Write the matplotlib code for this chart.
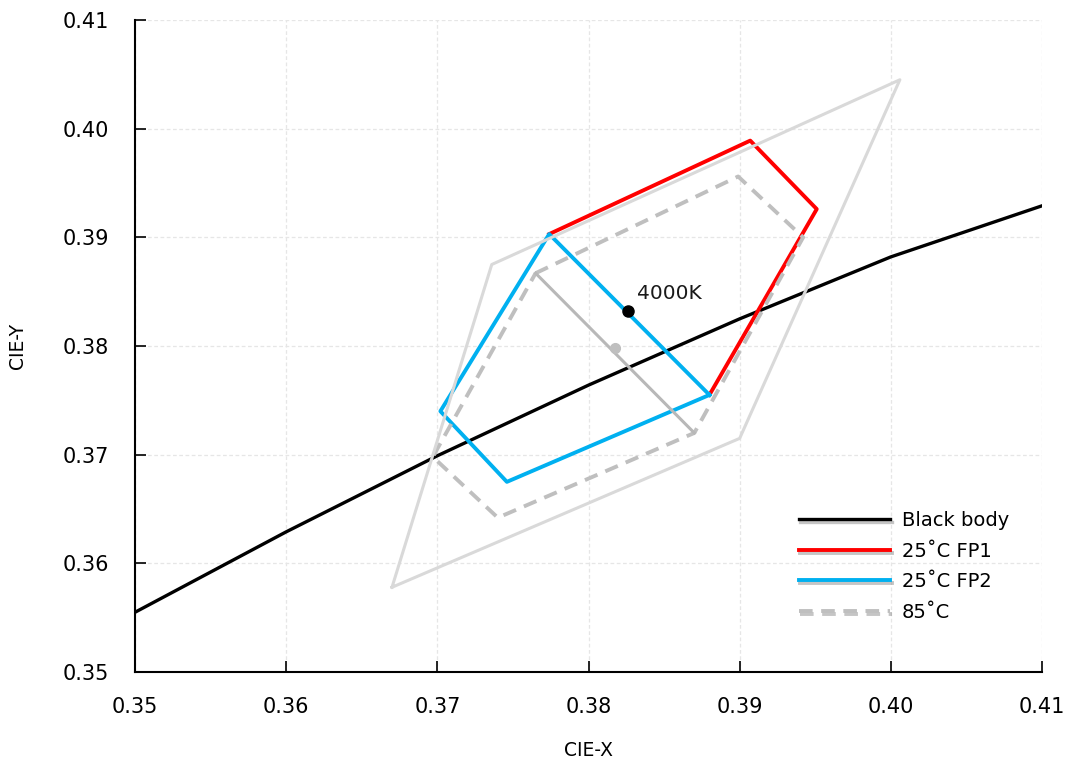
import matplotlib
matplotlib.use("Agg")
import matplotlib.pyplot as plt
import matplotlib.patheffects as pe

# Planckian (black body) locus
bb_x = [0.35, 0.36, 0.37, 0.38, 0.39, 0.40, 0.41]
bb_y = [0.3555, 0.3629, 0.3699, 0.3764, 0.3825, 0.3882, 0.3929]

# 25C FP1 (red polyline)
fp1_x = [0.3774, 0.3907, 0.3951, 0.3880]
fp1_y = [0.3903, 0.3989, 0.3926, 0.3755]

# 25C FP2 (blue quadrilateral + diagonal)
fp2_x = [0.3880, 0.3774, 0.3702, 0.3746, 0.3880]
fp2_y = [0.3755, 0.3903, 0.3740, 0.3675, 0.3755]

# 85C (gray dashed polygon)
t85_x = [0.3765, 0.3899, 0.3942, 0.3870, 0.3740, 0.3697, 0.3765]
t85_y = [0.3867, 0.3956, 0.3900, 0.3720, 0.3642, 0.3698, 0.3867]

# 85C diagonal (gray solid) and its centre point
diag_x = [0.3765, 0.3870]
diag_y = [0.3867, 0.3720]
c85_x, c85_y = 0.38175, 0.37986

# outer light gray quadrilateral
out_x = [0.3670, 0.3736, 0.4006, 0.3900, 0.3670]
out_y = [0.3578, 0.3875, 0.4045, 0.3715, 0.3578]

# 4000K point
p4000_x, p4000_y = 0.38263, 0.38318

ticks = [0.35, 0.36, 0.37, 0.38, 0.39, 0.40, 0.41]
tick_labels = ["0.35", "0.36", "0.37", "0.38", "0.39", "0.40", "0.41"]

fig = plt.figure(figsize=(10.70, 7.69), dpi=100)
ax = fig.add_axes([0.1262, 0.1261, 0.8476, 0.8479])

ax.plot(bb_x, bb_y, color="black", lw=2.4, label="Black body", zorder=3)
ax.plot(fp1_x, fp1_y, color="#ff0000", lw=2.8, label="25\u02daC FP1", zorder=4)
ax.plot(fp2_x, fp2_y, color="#00b0f0", lw=2.8, label="25\u02daC FP2", zorder=4)
ax.plot(t85_x, t85_y, color="#bfbfbf", lw=2.8, ls=(0, (3.5, 2.2)),
        label="85\u02daC", zorder=5)
ax.plot(diag_x, diag_y, color="#b8b8b8", lw=2.2, zorder=5)
ax.plot([c85_x], [c85_y], "o", color="#bfbfbf", ms=7, zorder=5)
ax.plot(out_x, out_y, color="#d9d9d9", lw=2.2, zorder=6)
ax.plot([p4000_x], [p4000_y], "o", color="black", ms=8, zorder=7)
ax.text(0.3832, 0.3848, "4000K", fontsize=14.5, ha="left", va="center",
        color="#1a1a1a")

ax.set_xlim(0.35, 0.41)
ax.set_ylim(0.35, 0.41)
ax.set_xticks(ticks)
ax.set_yticks(ticks)
ax.set_xticklabels(tick_labels)
ax.set_yticklabels(tick_labels)
ax.tick_params(direction="in", length=8, width=1.2, labelsize=15,
               colors="black")
ax.tick_params(axis="y", pad=19)
ax.tick_params(axis="x", pad=18)
ax.grid(True, color="#e6e6e6", ls=(0, (3, 2)), lw=0.9, zorder=0)
for s in ["top", "right"]:
    ax.spines[s].set_visible(False)
for s in ["left", "bottom"]:
    ax.spines[s].set_linewidth(1.5)

ax.set_xlabel("CIE-X", fontsize=13.5, labelpad=17)
ax.set_ylabel("CIE-Y", fontsize=13.5, labelpad=25)

leg = ax.legend(loc="lower right", bbox_to_anchor=(0.983, 0.05), frameon=False,
                fontsize=14, handlelength=4.7, handletextpad=0.6,
                labelspacing=0.6)
for ln in leg.get_lines():
    ln.set_path_effects([pe.SimpleLineShadow(offset=(1, -2), shadow_color="gray",
                                             alpha=0.45), pe.Normal()])

fig.savefig("out.png", dpi=100)
